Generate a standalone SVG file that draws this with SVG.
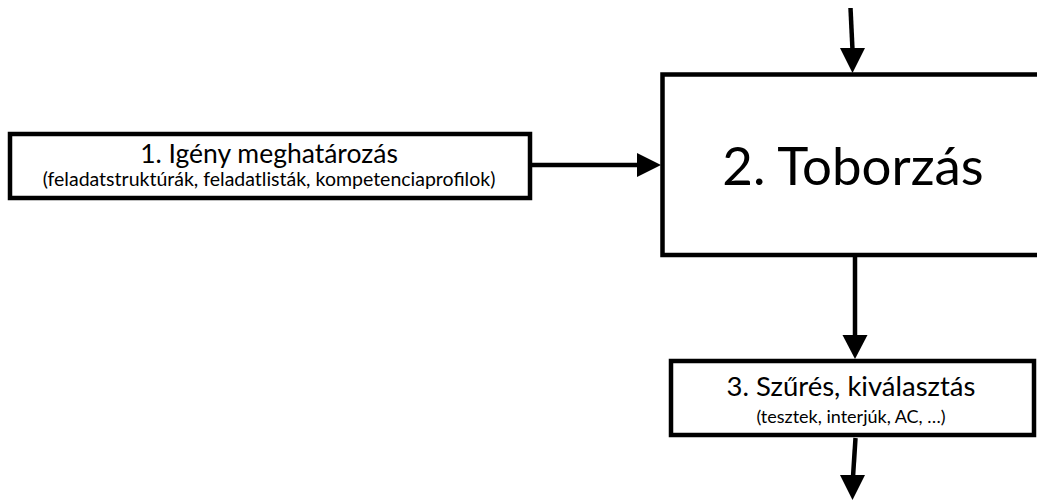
<svg xmlns="http://www.w3.org/2000/svg" width="1037" height="500" viewBox="0 0 1037 500">
  <style>
    .box { fill: #fff; stroke: #000; stroke-width: 4.5; }
    .edge { stroke: #000; stroke-width: 4.5; fill: none; }
    .head { fill: #000; }
    text { font-family: Lato, "Open Sans", "Liberation Sans", sans-serif; fill: #000; text-anchor: middle; }
    .t1 { font-size: 26.5px; }
    .sub1 { font-size: 19.5px; }
    .t3 { font-size: 27.5px; }
    .sub3 { font-size: 18px; }
    .big { font-size: 52.8px; }
  </style>
  <rect width="1037" height="500" fill="#fff"/>

  <g id="connectors">
    <!-- into Toborzás from above -->
    <line class="edge" x1="850.5" y1="8" x2="852.5" y2="50"/>
    <polygon class="head" points="840,48 865,48 852.5,73"/>
    <!-- Igény meghatározás -> Toborzás -->
    <line class="edge" x1="530" y1="165" x2="639" y2="165"/>
    <polygon class="head" points="637,153 661,165 637,177"/>
    <!-- Toborzás -> Szűrés -->
    <line class="edge" x1="855" y1="256" x2="855" y2="337"/>
    <polygon class="head" points="842.5,335 867.5,335 855,359"/>
    <!-- out of Szűrés -->
    <line class="edge" x1="855.5" y1="438" x2="853" y2="477"/>
    <polygon class="head" points="840,475 865,475 852.5,500"/>
  </g>

  <g id="node-igeny">
    <rect class="box" x="10" y="134" width="520" height="64"/>
    <text class="t1" x="269" y="163">1. Igény meghatározás</text>
    <text class="sub1" x="269" y="185.5">(feladatstruktúrák, feladatlisták, kompetenciaprofilok)</text>
  </g>

  <g id="node-toborzas">
    <rect class="box" x="662.5" y="74.5" width="400" height="180.5"/>
    <text class="big" x="853" y="185">2. Toborzás</text>
  </g>

  <g id="node-szures">
    <rect class="box" x="671" y="361" width="363" height="74"/>
    <text class="t3" x="851" y="396">3. Szűrés, kiválasztás</text>
    <text class="sub3" x="851" y="423">(tesztek, interjúk, AC, …)</text>
  </g>
</svg>
